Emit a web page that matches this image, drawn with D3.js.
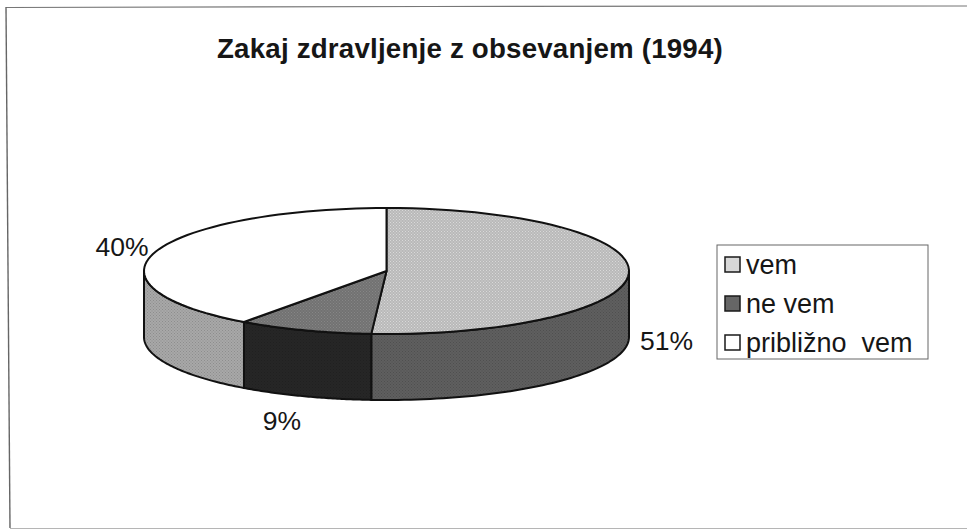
<!DOCTYPE html>
<html><head><meta charset="utf-8">
<script src="https://cdnjs.cloudflare.com/ajax/libs/d3/7.8.5/d3.min.js"></script>
<style>html,body{margin:0;padding:0;background:#fff}svg{display:block}text{font-family:"Liberation Sans",Arial,sans-serif;fill:#161616}</style>
</head><body><svg id="c" width="968" height="530"></svg>
<script>
const categories = ["vem", "ne vem", "približno  vem"];
const values = [51, 9, 40];
const labels = ["51%", "9%", "40%"];
const topFills = ["#b9b9b9", "#727272", "#ffffff"];
const sideFills = ["#5f5f5f", "#262626", "#a8a8a8"];
const title = "Zakaj zdravljenje z obsevanjem (1994)";

const svg = d3.select("#c");
const defs = svg.append("defs");
function texture(id, base, dot) {
  const p = defs.append("pattern").attr("id", id).attr("width", 3).attr("height", 3).attr("patternUnits", "userSpaceOnUse");
  p.append("rect").attr("width", 3).attr("height", 3).attr("fill", base);
  p.append("rect").attr("width", 1).attr("height", 1).attr("fill", dot);
  p.append("rect").attr("x", 1.5).attr("y", 1.5).attr("width", 1).attr("height", 1).attr("fill", dot);
}
const ids = [];
topFills.forEach((c, i) => {
  if (c !== "#ffffff") { texture("t" + i, c, d3.color(c).brighter(0.45)); }
  ids.push(c === "#ffffff" ? c : `url(#t${i})`);
});
const sideIds = sideFills.map((c, i) => { texture("s" + i, c, d3.color(c).darker(0.5)); return `url(#s${i})`; });

// frame: scanned page shows only the top, left and (faint) bottom edges
svg.append("path").attr("d", "M6,7.5L430,6.5L967,6").attr("fill", "none").attr("stroke", "#777").attr("stroke-width", 1.2);
svg.append("path").attr("d", "M6,7L10,528").attr("fill", "none").attr("stroke", "#666").attr("stroke-width", 1.4);
svg.append("path").attr("d", "M10,528.5L967,528.5").attr("fill", "none").attr("stroke", "#b5b5b5").attr("stroke-width", 1.2);

svg.append("text").attr("x", 470).attr("y", 58).attr("text-anchor", "middle")
  .attr("font-size", 27.7).attr("font-weight", "bold").attr("letter-spacing", 0.2).text(title);

// pie geometry: d3.pie gives angles, scales project the tilted disc
const pie = d3.pie().sort(null).value(d => d)(values);
const cx = 386.5, cy = 271, rx = 242.5, ry = 63, depth = 66;
const sx = d3.scaleLinear().domain([-1, 1]).range([cx - rx, cx + rx]);
const sy = d3.scaleLinear().domain([-1, 1]).range([cy - ry, cy + ry]);
const px = a => sx(Math.sin(a));
const py = a => sy(-Math.cos(a));
const samples = (a0, a1) => d3.range(0, 61).map(i => a0 + (a1 - a0) * i / 60);
const line = d3.line();

// sides: visible only on the front half (90deg..270deg)
const front0 = Math.PI / 2, front1 = Math.PI * 1.5;
pie.forEach((s, i) => {
  const a0 = Math.max(s.startAngle, front0), a1 = Math.min(s.endAngle, front1);
  if (a1 <= a0) return;
  const fwd = samples(a0, a1).map(a => [px(a), py(a)]);
  const back = samples(a1, a0).map(a => [px(a), py(a) + depth]);
  svg.append("path").attr("d", line(fwd.concat(back)) + "Z")
    .attr("fill", sideIds[i]).attr("stroke", "#111").attr("stroke-width", 2).attr("stroke-linejoin", "round");
});
// top
pie.forEach((s, i) => {
  const pts = [[sx(0), sy(0)]].concat(samples(s.startAngle, s.endAngle).map(a => [px(a), py(a)]));
  svg.append("path").attr("d", line(pts) + "Z")
    .attr("fill", ids[i]).attr("stroke", "#111").attr("stroke-width", 2).attr("stroke-linejoin", "round");
});

// data labels
const labelPos = [[666.5, 350], [282, 430], [122, 256]];
labels.forEach((t, i) => svg.append("text").attr("x", labelPos[i][0]).attr("y", labelPos[i][1])
  .attr("text-anchor", "middle").attr("font-size", 26.5).text(t));

// legend
const lg = svg.append("g");
lg.append("rect").attr("x", 717).attr("y", 245).attr("width", 211).attr("height", 114)
  .attr("fill", "#fff").attr("stroke", "#666").attr("stroke-width", 1);
const ly = d3.scalePoint().domain(categories).range([265, 343]);
const legendFills = ["#d8d8d8", "#666666", "#ffffff"];
categories.forEach((c, i) => {
  lg.append("rect").attr("x", 725).attr("y", ly(c) - 8).attr("width", 15).attr("height", 15)
    .attr("fill", legendFills[i]).attr("stroke", "#1a1a1a").attr("stroke-width", 1.5);
  lg.append("text").attr("x", 746).attr("y", ly(c) + 9).attr("font-size", 27).attr("xml:space", "preserve").style("white-space", "pre").text(c);
});
</script></body></html>
